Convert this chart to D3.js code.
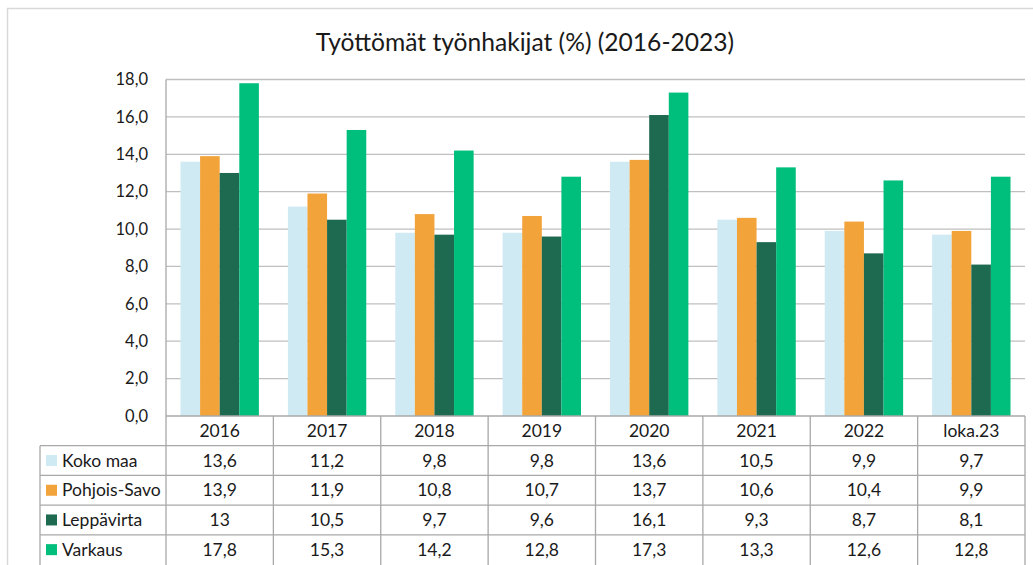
<!DOCTYPE html>
<html>
<head>
<meta charset="utf-8">
<script src="https://cdn.jsdelivr.net/npm/d3@7"></script>
<style>
  body { margin: 0; background: #fff; }
  svg { display: block; font-family: Lato, "Open Sans", sans-serif; }
</style>
</head>
<body>
<svg id="chart" width="1033" height="565"></svg>
<script>
  'use strict';

  // data
  const categories = ['2016', '2017', '2018', '2019', '2020', '2021', '2022', 'loka.23'];
  const seriesNames = ['Koko maa', 'Pohjois-Savo', 'Leppävirta', 'Varkaus'];
  const kokoMaa = [13.6, 11.2, 9.8, 9.8, 13.6, 10.5, 9.9, 9.7];
  const pohjoisSavo = [13.9, 11.9, 10.8, 10.7, 13.7, 10.6, 10.4, 9.9];
  const leppavirta = [13, 10.5, 9.7, 9.6, 16.1, 9.3, 8.7, 8.1];
  const varkaus = [17.8, 15.3, 14.2, 12.8, 17.3, 13.3, 12.6, 12.8];
  const yTicks = [0, 2, 4, 6, 8, 10, 12, 14, 16, 18];
  const colors = ['#cfeaf3', '#f2a33a', '#1e6a50', '#00be7b'];

  const series = [kokoMaa, pohjoisSavo, leppavirta, varkaus];

  const svg = d3.select('#chart'),
        plotLeft = 166, plotRight = 1025, plotTop = 79.5, plotBottom = 416,
        rowH = 29.7, tableLeft = 40, textColor = '#1a1a1a', tableFont = 17.5;

  // outer frame (cropped on the right and bottom)
  svg.append('rect')
    .attr('x', 7.5).attr('y', 8.5)
    .attr('width', 1100).attr('height', 700)
    .attr('fill', 'none').attr('stroke', '#d9d9d9').attr('stroke-width', 1.5);

  // title
  svg.append('text')
    .attr('x', 525).attr('y', 51)
    .attr('text-anchor', 'middle')
    .attr('font-size', 24.6)
    .attr('fill', textColor)
    .text('Työttömät työnhakijat (%) (2016-2023)');

  const x0 = d3.scaleBand().domain(categories).range([plotLeft, plotRight]).paddingInner(0.27).paddingOuter(0.135);
  const xCell = d3.scaleBand().domain(categories).range([plotLeft, plotRight]);
  const x1 = d3.scaleBand().domain(d3.range(series.length)).range([0, x0.bandwidth()]);
  const y = d3.scaleLinear().domain([0, 18]).range([plotBottom, plotTop]);

  // gridlines
  svg.append('g')
    .selectAll('line').data(yTicks.slice(1)).join('line')
    .attr('x1', plotLeft).attr('x2', plotRight)
    .attr('y1', d => y(d)).attr('y2', d => y(d))
    .attr('stroke', '#bfbfbf').attr('stroke-width', 1.3);

  // y axis labels
  const yAxis = svg.append('g')
    .attr('transform', `translate(${plotLeft},0)`)
    .call(d3.axisLeft(y).tickValues(yTicks).tickSize(0).tickPadding(18)
      .tickFormat(d => d3.format('.1f')(d).replace('.', ',')));
  yAxis.select('.domain').remove();
  yAxis.selectAll('text').attr('font-size', 16.5).attr('fill', textColor).attr('font-family', 'Lato, sans-serif');

  // bars
  svg.append('g')
    .selectAll('g').data(categories).join('g')
    .attr('transform', d => `translate(${x0(d)},0)`)
    .selectAll('rect')
    .data((d, i) => series.map((s, k) => ({ k: k, v: s[i] })))
    .join('rect')
    .attr('x', d => x1(d.k))
    .attr('width', x1.bandwidth())
    .attr('y', d => y(d.v))
    .attr('height', d => y(0) - y(d.v))
    .attr('fill', d => colors[d.k]);

  // data table
  const table = svg.append('g');
  const lineColor = '#a8a8a8';

  // horizontal lines
  table.append('line')
    .attr('x1', plotLeft).attr('x2', plotRight).attr('y1', plotBottom).attr('y2', plotBottom)
    .attr('stroke', lineColor).attr('stroke-width', 1.3);
  table.selectAll('.hline').data(d3.range(1, series.length + 1)).join('line')
    .attr('class', 'hline')
    .attr('x1', tableLeft).attr('x2', plotRight)
    .attr('y1', d => plotBottom + rowH * d).attr('y2', d => plotBottom + rowH * d)
    .attr('stroke', lineColor).attr('stroke-width', 1.3);

  // vertical lines
  table.append('line')
    .attr('x1', plotLeft).attr('x2', plotLeft).attr('y1', plotTop).attr('y2', 600)
    .attr('stroke', lineColor).attr('stroke-width', 1.3);
  table.append('line')
    .attr('x1', tableLeft).attr('x2', tableLeft).attr('y1', plotBottom + rowH).attr('y2', 600)
    .attr('stroke', lineColor).attr('stroke-width', 1.3);
  table.selectAll('.vline').data(categories).join('line')
    .attr('class', 'vline')
    .attr('x1', d => xCell(d) + xCell.bandwidth()).attr('x2', d => xCell(d) + xCell.bandwidth())
    .attr('y1', plotBottom).attr('y2', 600)
    .attr('stroke', lineColor).attr('stroke-width', 1.3);

  // header
  table.selectAll('.head').data(categories).join('text')
    .attr('class', 'head')
    .attr('x', d => xCell(d) + xCell.bandwidth() / 2)
    .attr('y', plotBottom + rowH / 2 + 6)
    .attr('text-anchor', 'middle').attr('font-size', tableFont).attr('fill', textColor)
    .text(d => d);

  // rows
  const rows = table.selectAll('.row').data(series).join('g')
    .attr('class', 'row')
    .attr('transform', (d, k) => `translate(0,${plotBottom + rowH * (k + 1)})`);

  rows.append('rect')
    .attr('x', 46).attr('y', rowH / 2 - 5.5)
    .attr('width', 11).attr('height', 11)
    .attr('fill', (d, k) => colors[k]);

  rows.append('text')
    .attr('x', 62).attr('y', rowH / 2 + 6)
    .attr('font-size', tableFont).attr('fill', textColor)
    .text((d, k) => seriesNames[k]);

  rows.selectAll('.val').data(d => d).join('text')
    .attr('class', 'val')
    .attr('x', (d, i) => xCell(categories[i]) + xCell.bandwidth() / 2)
    .attr('y', rowH / 2 + 6)
    .attr('text-anchor', 'middle').attr('font-size', tableFont).attr('fill', textColor)
    .text(d => String(d).replace('.', ','));
</script>
</body>
</html>
